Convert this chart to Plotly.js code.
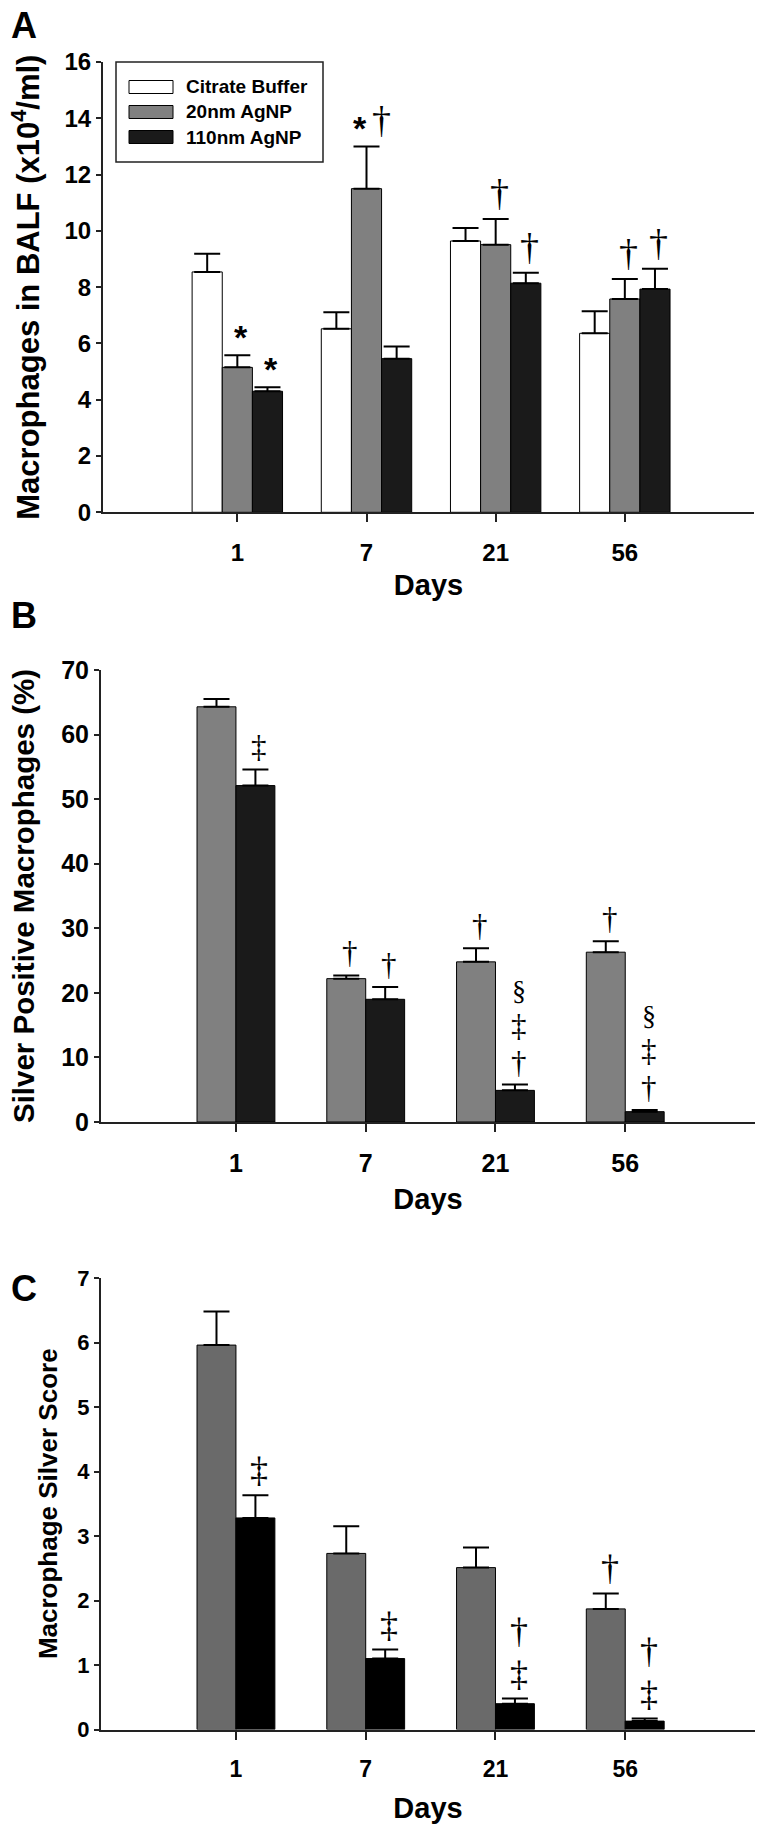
<!DOCTYPE html>
<html><head><meta charset="utf-8">
<script src="https://cdn.plot.ly/plotly-3.0.1.min.js"></script>
<style>html,body{margin:0;padding:0;background:#fff}</style>
</head><body><div id="chart" style="width:759px;height:1830px"></div>
<script>
// ---------- data ----------
const days = ['1', '7', '21', '56'];
const seriesNames = ['Citrate Buffer', '20nm AgNP', '110nm AgNP'];

// Panel A: Macrophages in BALF (x10^4/ml)
const aCitrate = [8.54, 6.52, 9.64, 6.36];
const aCitrateErr = [0.65, 0.59, 0.46, 0.78];
const a20 = [5.15, 11.50, 9.51, 7.58];
const a20Err = [0.43, 1.50, 0.91, 0.71];
const a110 = [4.30, 5.46, 8.14, 7.93];
const a110Err = [0.14, 0.43, 0.37, 0.72];
const aMarksCitrate = ['', '', '', ''];
const aMarks20 = ['*', '*†', '†', '†'];
const aMarks110 = ['*', '', '†', '†'];

// Panel B: Silver Positive Macrophages (%)
const b20 = [64.3, 22.2, 24.8, 26.3];
const b20Err = [1.2, 0.5, 2.1, 1.7];
const b110 = [52.1, 19.0, 4.9, 1.6];
const b110Err = [2.5, 1.9, 0.9, 0.25];
const bMarks20 = ['', '†', '†', '†'];
const bMarks110 = ['‡', '†', '§‡†', '§‡†'];

// Panel C: Macrophage Silver Score
const c20 = [5.96, 2.73, 2.51, 1.87];
const c20Err = [0.52, 0.42, 0.31, 0.24];
const c110 = [3.28, 1.10, 0.40, 0.13];
const c110Err = [0.35, 0.14, 0.08, 0.04];
const cMarks20 = ['', '', '', '†'];
const cMarks110 = ['‡', '‡', '†‡', '†‡'];

// ---------- style ----------
const SANS = 'Liberation Sans, Arial, Helvetica, sans-serif';
const SERIF = 'Liberation Serif, Times New Roman, serif';
const W = 759, H = 1830;
const px = v => v / W;            // horizontal pixel -> paper
const py = v => 1 - v / H;        // vertical pixel -> paper

const colWhite = '#ffffff', colGrayA = '#808080', colBlackA = '#1a1a1a';
const colGrayC = '#6a6a6a', colBlackC = '#000000';

const wA = 0.7 / 3, offA = [-0.35, -0.35 + wA, -0.35 + 2 * wA];
const wB = 0.3, offB = [-0.3, 0];

function barTrace(name, y, err, color, xa, ya, width, offset) {
  return {
    type: 'bar', name, x: days, y, xaxis: xa, yaxis: ya,
    width, offset, showlegend: false,
    marker: {color, line: {color: '#000', width: 1}},
    error_y: {type: 'data', symmetric: false, array: err, arrayminus: err.map(() => 0),
              color: '#000', thickness: 2, width: 13},
    hoverinfo: 'skip'
  };
}

const traces = [
  barTrace(seriesNames[0], aCitrate, aCitrateErr, colWhite, 'x', 'y', wA, offA[0]),
  barTrace(seriesNames[1], a20, a20Err, colGrayA, 'x', 'y', wA, offA[1]),
  barTrace(seriesNames[2], a110, a110Err, colBlackA, 'x', 'y', wA, offA[2]),
  barTrace(seriesNames[1], b20, b20Err, colGrayA, 'x2', 'y2', wB, offB[0]),
  barTrace(seriesNames[2], b110, b110Err, colBlackA, 'x2', 'y2', wB, offB[1]),
  barTrace(seriesNames[1], c20, c20Err, colGrayC, 'x3', 'y3', wB, offB[0]),
  barTrace(seriesNames[2], c110, c110Err, colBlackC, 'x3', 'y3', wB, offB[1])
];

function xAxis(domain, anchor, tickSize, titleSize, standoff, tls) {
  return {
    domain, anchor, type: 'category', categoryorder: 'array', categoryarray: days,
    range: [-1.04, 4.0], showline: true, linecolor: '#222', linewidth: 2,
    ticks: 'outside', ticklen: 8, tickwidth: 2, tickcolor: '#222',
    ticklabelstandoff: tls,
    tickfont: {family: SANS, size: tickSize, color: '#000', weight: 'bold'},
    showgrid: false, zeroline: false, fixedrange: true,
    title: {text: 'Days', standoff, font: {family: SANS, size: titleSize, color: '#000', weight: 'bold'}}
  };
}
function yAxis(domain, anchor, range, dtick, tickSize, title, titleSize, standoff) {
  return {
    domain, anchor, range, dtick, tick0: 0, showline: true, linecolor: '#222', linewidth: 2,
    ticks: 'outside', ticklen: 5, tickwidth: 2, tickcolor: '#222',
    tickfont: {family: SANS, size: tickSize, color: '#000', weight: 'bold'},
    showgrid: false, zeroline: false, fixedrange: true,
    title: {text: title, standoff, font: {family: SANS, size: titleSize, color: '#000', weight: 'bold'}}
  };
}

const xDomA = [px(103), px(754)], xDomB = [px(101), px(755)];
const layout = {
  width: W, height: H, margin: {l: 0, r: 0, t: 0, b: 0},
  paper_bgcolor: '#fff', plot_bgcolor: 'rgba(0,0,0,0)',
  barmode: 'overlay', showlegend: false,
  xaxis: xAxis(xDomA, 'y', 24, 29, 10, 10),
  yaxis: yAxis([py(512.3), py(62)], 'x', [0, 16], 2, 24, 'Macrophages in BALF (x10<sup>4</sup>/ml)', 31, 16),
  xaxis2: xAxis(xDomB, 'y2', 25, 29, 13, 10),
  yaxis2: yAxis([py(1122), py(670)], 'x2', [0, 70], 10, 25, 'Silver Positive Macrophages (%)', 29.5, 18),
  xaxis3: xAxis(xDomB, 'y3', 23, 29, 17, 10),
  yaxis3: yAxis([py(1729.5), py(1278)], 'x3', [0, 7], 1, 22, 'Macrophage Silver Score', 26, 12),
  annotations: [], shapes: []
};

// panel letters
[['A', 3], ['B', 593], ['C', 1266]].forEach(([t, top]) => {
  layout.annotations.push({xref: 'paper', yref: 'paper', x: px(9), y: py(top), xanchor: 'left', yanchor: 'top',
    text: t, showarrow: false, font: {family: SANS, size: 36, color: '#000', weight: 'bold'}});
});

// significance marks
function addMarks(marks, vals, errs, xref, yref, offset, width, opts) {
  marks.forEach((m, i) => {
    if (!m) return;
    const x = i + offset + width / 2;
    const y = vals[i] + errs[i];
    const parts = Array.from(m);
    parts.forEach((p, k) => {
      const isStar = p === '*';
      const font = isStar ? {family: SANS, size: 34, color: '#000', weight: 'bold'}
                          : {family: SERIF, size: p === '§' ? opts.size - 3 : opts.size, color: '#000'};
      let xshift = 4, yshift = opts.gap;
      if (opts.stack) {
        yshift = opts.gap + (parts.length - 1 - k) * opts.pitch;
      } else {
        xshift = (k - (parts.length - 1) / 2) * 22 + 4;
      }
      if (isStar) yshift += opts.starShift;
      layout.annotations.push({xref, yref, x, y, text: p, showarrow: false, borderpad: 0,
        xanchor: 'center', yanchor: 'bottom', xshift, yshift, font});
    });
  });
}
const optA = {stack: false, gap: 4, starShift: -6, size: 38};
addMarks(aMarksCitrate, aCitrate, aCitrateErr, 'x', 'y', offA[0], wA, optA);
addMarks(aMarks20, a20, a20Err, 'x', 'y', offA[1], wA, optA);
addMarks(aMarks110, a110, a110Err, 'x', 'y', offA[2], wA, optA);
const optB = {stack: true, gap: 4, pitch: 37, starShift: 0, size: 31};
addMarks(bMarks20, b20, b20Err, 'x2', 'y2', offB[0], wB, optB);
addMarks(bMarks110, b110, b110Err, 'x2', 'y2', offB[1], wB, optB);
const optC = {stack: true, gap: 4, pitch: 43, starShift: 0, size: 36};
addMarks(cMarks20, c20, c20Err, 'x3', 'y3', offB[0], wB, optC);
addMarks(cMarks110, c110, c110Err, 'x3', 'y3', offB[1], wB, optC);

// legend (panel A)
layout.shapes.push({type: 'rect', xref: 'paper', yref: 'paper', x0: px(116), x1: px(323), y0: py(162), y1: py(62),
  line: {color: '#222', width: 1.5}, fillcolor: 'rgba(0,0,0,0)'});
const legendCols = [colWhite, colGrayA, colBlackA];
seriesNames.forEach((n, k) => {
  const cy = 87 + 25 * k;
  layout.shapes.push({type: 'rect', xref: 'paper', yref: 'paper', x0: px(129), x1: px(173), y0: py(cy + 6.5), y1: py(cy - 6.5),
    line: {color: '#000', width: 1}, fillcolor: legendCols[k]});
  layout.annotations.push({xref: 'paper', yref: 'paper', x: px(184), y: py(cy), xanchor: 'left', yanchor: 'middle',
    text: n, showarrow: false, font: {family: SANS, size: 19, color: '#000', weight: 'bold'}});
});

Plotly.newPlot('chart', traces, layout, {staticPlot: true, displayModeBar: false});
</script>
</body></html>
